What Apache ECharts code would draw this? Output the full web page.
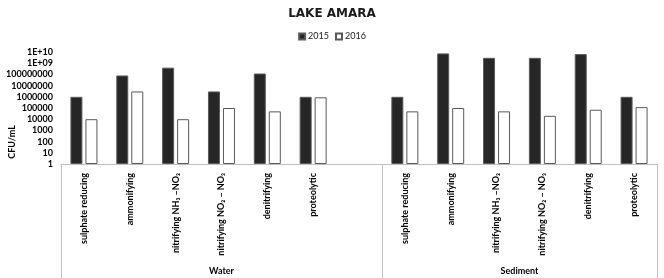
<!DOCTYPE html>
<html>
<head>
<meta charset="utf-8">
<script src="https://cdn.jsdelivr.net/npm/echarts@6/dist/echarts.min.js"></script>
<style>
  html, body { margin: 0; padding: 0; background: #fff; }
  #lakeChart { width: 664px; height: 278px; }
</style>
</head>
<body>
<div id="lakeChart"></div>
<script>
var lakeChart = echarts.init(document.getElementById('lakeChart'));

let groups = ['Water', 'Sediment'];
let bacteria = ['sulphate reducing', 'ammonifying', 'nitrifying NH\u2083 \u2013NO\u2082', 'nitrifying NO\u2082 \u2013 NO\u2083', 'denitrifying', 'proteolytic'];
let years = ['2015', '2016'];
// CFU/mL
let water2015 = [1000000, 80000000, 400000000, 3000000, 120000000, 1000000];
let water2016 = [10000, 3000000, 10000, 100000, 50000, 900000];
let sediment2015 = [1000000, 7500000000, 3000000000, 3000000000, 6500000000, 1000000];
let sediment2016 = [50000, 100000, 50000, 20000, 70000, 120000];

// excel leaves one empty slot after the Water group
let categories = bacteria.concat(['']).concat(bacteria);
let data2015 = water2015.concat(['-']).concat(sediment2015);
let data2016 = water2016.concat(['-']).concat(sediment2016);
let groupStart = [0, bacteria.length + 1];
let groupCenter = [(bacteria.length + 1) / 2, bacteria.length + 1 + bacteria.length / 2];

let font = 'Lato';
let txt = '#000000';

let yLabel = function(v) {
    let e = Math.round(Math.log10(v));
    if (e >= 9) return '1E+' + (e < 10 ? '0' + e : e);
    return '1' + '0'.repeat(e);
};

option = {
    backgroundColor: '#ffffff',
    animation: false,
    title: {
        text: 'LAKE AMARA',
        left: 'center',
        top: 3,
        textStyle: {
            fontFamily: 'DejaVu Sans',
            fontSize: 12,
            fontWeight: 'bold',
            color: '#1a1a1a'
        }
    },
    legend: {
        data: years,
        top: 27,
        left: 'center',
        icon: 'rect',
        itemWidth: 6,
        itemHeight: 6,
        itemGap: 6,
        textStyle: {
            fontFamily: font,
            fontSize: 9,
            color: '#222',
            padding: [0, 0, 0, -2]
        }
    },
    grid: {
        left: 61,
        right: 7,
        top: 52,
        bottom: 114,
        containLabel: false
    },
    graphic: [{
        type: 'text',
        x: 12,
        y: 142,
        rotation: Math.PI / 2,
        style: {
            text: 'CFU/mL',
            align: 'center',
            verticalAlign: 'middle',
            font: 'bold 9px ' + font,
            fill: txt
        }
    }],
    xAxis: [{
        type: 'category',
        data: categories,
        axisLine: {
            lineStyle: { color: '#bfbfbf', width: 1 }
        },
        axisTick: {
            show: true,
            length: 114,
            interval: function(index) {
                return groupStart.indexOf(index) >= 0;
            },
            lineStyle: { color: '#bfbfbf', width: 1 }
        },
        axisLabel: {
            rotate: 90,
            interval: 0,
            margin: 9,
            fontFamily: font,
            fontSize: 9,
            fontWeight: 'bold',
            color: txt
        }
    }, {
        type: 'value',
        position: 'bottom',
        min: 0,
        max: categories.length,
        interval: 0.5,
        offset: 95,
        axisLine: { show: false },
        axisTick: { show: false },
        splitLine: { show: false },
        axisLabel: {
            showMinLabel: true,
            showMaxLabel: true,
            fontFamily: font,
            fontSize: 9,
            fontWeight: 'bold',
            color: txt,
            formatter: function(v) {
                let i = groupCenter.indexOf(v);
                return i >= 0 ? groups[i] : '';
            }
        }
    }],
    yAxis: {
        type: 'log',
        logBase: 10,
        min: 1,
        max: 10000000000,
        interval: 1,
        axisLine: { show: false },
        axisTick: { show: false },
        splitLine: { show: false },
        axisLabel: {
            interval: 0,
            margin: 8,
            fontFamily: font,
            fontSize: 9,
            fontWeight: 'bold',
            color: txt,
            formatter: yLabel
        }
    },
    series: [{
        name: years[0],
        type: 'bar',
        data: data2015,
        barWidth: 12,
        barGap: '25%',
        itemStyle: {
            color: '#262626',
            borderColor: '#5a5a5a',
            borderWidth: 1
        }
    }, {
        name: years[1],
        type: 'bar',
        data: data2016,
        barWidth: 12,
        itemStyle: {
            color: '#ffffff',
            borderColor: '#595959',
            borderWidth: 1
        }
    }]
};
lakeChart.setOption(option);
</script>
</body>
</html>
